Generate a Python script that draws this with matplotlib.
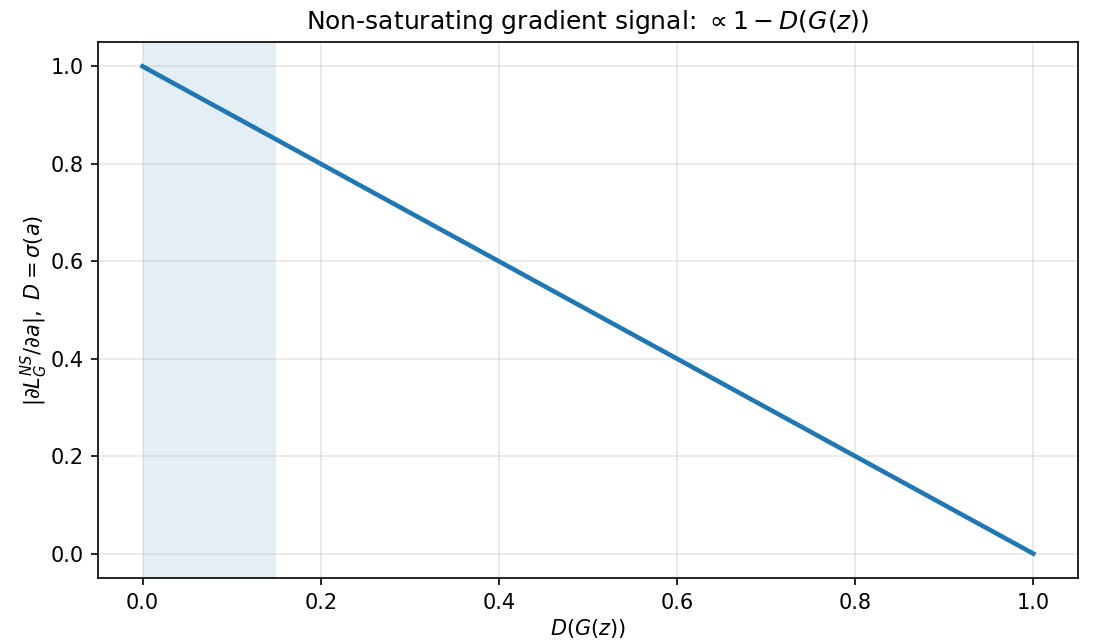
import matplotlib
matplotlib.use("Agg")
import matplotlib.pyplot as plt

# values
d_vals = [0.0, 0.2, 0.4, 0.6, 0.8, 1.0]
grad_vals = [1.0, 0.8, 0.6, 0.4, 0.2, 0.0]
shade_lo, shade_hi = 0.0, 0.15

fig = plt.figure(figsize=(7.4, 4.28), dpi=150)
ax = fig.add_axes([0.0883, 0.0997, 0.8827, 0.8349])

ax.axvspan(shade_lo, shade_hi, color='C0', alpha=0.12, lw=0)
ax.plot(d_vals, grad_vals, color='C0', lw=2.2)

ax.set_title(r"Non-saturating gradient signal: $\propto 1 - D(G(z))$")
ax.set_xlabel(r"$D(G(z))$", labelpad=2)
ax.set_ylabel(r"$|\partial L_G^{NS}/\partial a|,\ D=\sigma(a)$", labelpad=0)
ax.grid(True, alpha=0.3)

fig.savefig("out.png", dpi=150)
